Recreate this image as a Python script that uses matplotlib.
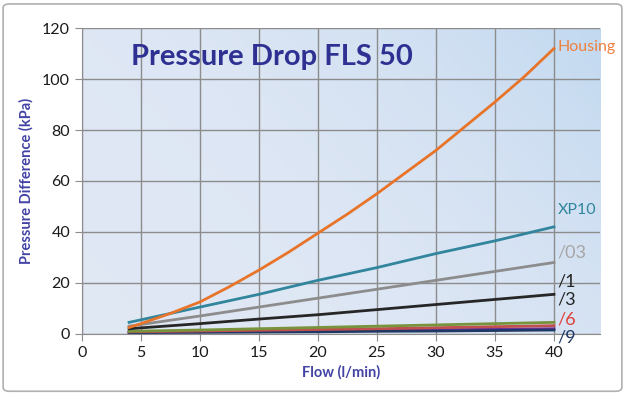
import numpy as np
import matplotlib.pyplot as plt
from matplotlib.patches import FancyBboxPatch

# data
flow = [4, 10, 15, 20, 25, 30, 35, 40]
housing_flow = [4, 5, 7.5, 10, 12.5, 15, 17.5, 20, 22.5, 25, 27.5, 30, 32.5, 35, 37.5, 40]
housing = [2.5, 4, 8, 12.5, 18.5, 25, 32, 39.5, 47, 55, 63.5, 72, 81.5, 91, 101, 112]
xp10 = [4.5, 10.5, 15.5, 21, 26, 31.5, 36.5, 42]
s03 = [3, 7, 10.5, 14, 17.5, 21, 24.5, 28]
s1_3 = [2, 4, 5.8, 7.5, 9.5, 11.5, 13.5, 15.5]
green = [1, 1.5, 2, 2.5, 3, 3.5, 4, 4.5]
s6 = [0.8, 1.1, 1.4, 1.7, 2, 2.4, 2.8, 3.2]
purple = [0.6, 0.8, 1.0, 1.2, 1.4, 1.6, 1.8, 2.0]
s9 = [0.5, 0.6, 0.7, 0.8, 1.0, 1.1, 1.3, 1.5]

xticks = [0, 5, 10, 15, 20, 25, 30, 35, 40]
yticks = [0, 20, 40, 60, 80, 100, 120]

plt.rcParams['font.family'] = ['Lato', 'DejaVu Sans']

fig = plt.figure(figsize=(6.25, 3.96), dpi=100)
fig.patches.append(FancyBboxPatch((0.005, 0.012), 0.99, 0.978, boxstyle='round,pad=0,rounding_size=0.01',
                                  transform=fig.transFigure, facecolor='white', edgecolor='#b0b0b0',
                                  lw=1.2, zorder=-5))
ax = fig.add_axes([0.131, 0.157, 0.829, 0.772])
ax.set_zorder(2)

# light blue gradient background
gx = np.linspace(0, 1, 200)
gy = np.linspace(0, 1, 200)
GX, GY = np.meshgrid(gx, gy)
t = np.clip(0.65 * GX + 0.35 * GY, 0, 1) ** 2.5
c0 = np.array([0.88, 0.91, 0.96])
c1 = np.array([0.76, 0.85, 0.94])
img = c0[None, None, :] * (1 - t[..., None]) + c1[None, None, :] * t[..., None]
ax.imshow(img, extent=[0, 1, 0, 1], transform=ax.transAxes, origin='lower', aspect='auto', zorder=0)

ax.set_xlim(0, 43.9)
ax.set_ylim(0, 120)
ax.set_xticks(xticks)
ax.set_yticks(yticks)
ax.grid(True, color='#8c8c8c', lw=1, zorder=1)
ax.set_axisbelow(True)
for s in ['top', 'right']:
    ax.spines[s].set_visible(False)
for s in ['left', 'bottom']:
    ax.spines[s].set_color('#8c8c8c')
ax.tick_params(colors='#8c8c8c', labelcolor='#1a1a1a', labelsize=11.5, length=5, direction='out')

lw = 2
ax.plot(flow, purple, color='#7030a0', lw=lw, zorder=3)
ax.plot(flow, s9, color='#1f3864', lw=lw, zorder=3)
ax.plot(flow, s6, color='#c0504d', lw=lw, zorder=3)
ax.plot(flow, green, color='#77933c', lw=lw, zorder=3)
ax.plot(flow, s1_3, color='#262626', lw=lw, zorder=3)
ax.plot(flow, s03, color='#8c8c8c', lw=lw, zorder=3)
ax.plot(flow, xp10, color='#31859c', lw=lw, zorder=3)
ax.plot(housing_flow, housing, color='#e8742a', lw=lw, zorder=3)

lab = dict(fontsize=11.5, va='center', ha='left', clip_on=False, zorder=4)
ax.text(40.3, 112.5, 'Housing', color='#ee8040', **lab)
ax.text(40.3, 48.5, 'XP10', color='#31859c', **lab)
ax.text(40.3, 32, '/03', color='#a6a6a6', fontsize=13, va='center', ha='left')
ax.text(40.3, 20.5, '/1', color='#262626', fontsize=13, va='center', ha='left')
ax.text(40.3, 13.5, '/3', color='#262626', fontsize=13, va='center', ha='left')
ax.text(40.3, 5.5, '/6', color='#e0403a', fontsize=13, va='center', ha='left')
ax.text(40.3, -1.3, '/9', color='#1f3864', fontsize=13, va='center', ha='left', clip_on=False)

ax.text(0.367, 0.905, 'Pressure Drop FLS 50', transform=ax.transAxes, ha='center', va='center',
        fontsize=21, fontweight='bold', color='#2e3192')

ax.set_xlabel('Flow (l/min)', fontsize=10.5, fontweight='bold', color='#4343a6', labelpad=4)
ax.set_ylabel('Pressure Difference (kPa)', fontsize=10.5, fontweight='bold', color='#4343a6', labelpad=6)

fig.savefig('out.png', dpi=100)
